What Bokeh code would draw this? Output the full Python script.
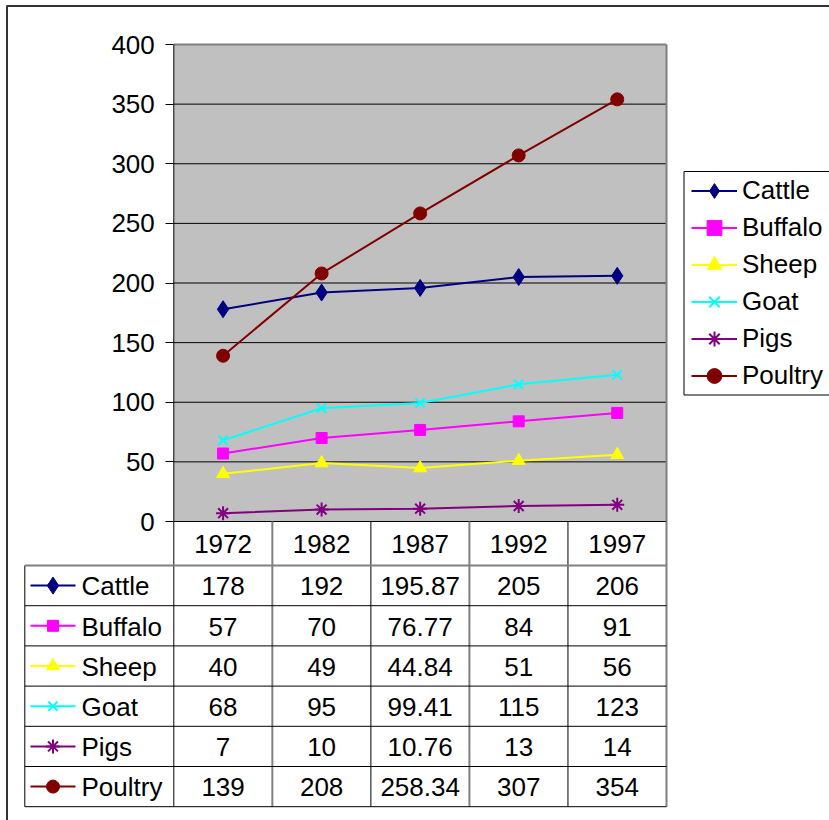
from bokeh.plotting import figure
from bokeh.models import Range1d, LinearAxis, FixedTicker, Legend, LegendItem, ColumnDataSource
from bokeh.core.properties import value
from bokeh.embed import file_html
from bokeh.resources import INLINE

# ---------------- data ----------------
years = ["1972", "1982", "1987", "1992", "1997"]
names = ["Cattle", "Buffalo", "Sheep", "Goat", "Pigs", "Poultry"]
cattle = [178, 192, 195.87, 205, 206]
buffalo = [57, 70, 76.77, 84, 91]
sheep = [40, 49, 44.84, 51, 56]
goat = [68, 95, 99.41, 115, 123]
pigs = [7, 10, 10.76, 13, 14]
poultry = [139, 208, 258.34, 307, 354]
y_ticks = [0, 50, 100, 150, 200, 250, 300, 350, 400]

series = [cattle, buffalo, sheep, goat, pigs, poultry]
colors = ["#000080", "#FF00FF", "#FFFF00", "#00FFFF", "#800080", "#800000"]
markers = ["diamond", "square", "triangle", "x", "asterisk", "circle"]
sizes = [17, 11, 13, 13, 14, 13]

# ---------------- layout constants (pixels) ----------------
W, H = 829, 820
PL, PR, PT, PB = 173.3, 666.0, 44.0, 521.0
ROW0, RH, TL, TB = 565.0, 40.2, 24.3, 806.0
FONT = "Liberation Sans"
FS = "26px"

n = len(years)
cw = (PR - PL) / n
upp = 400.0 / (PB - PT)

p = figure(width=W, height=H,
           x_range=Range1d(-PL / cw, (W - PL) / cw),
           y_range=Range1d(-(H - PB) * upp, PB * upp),
           min_border=0, toolbar_location=None, output_backend="svg",
           x_axis_location=None, y_axis_location=None,
           background_fill_color="white", border_fill_color="white")
p.outline_line_color = None
p.xgrid.visible = False
p.ygrid.visible = False
p.extra_x_ranges = {"px": Range1d(0, W)}
p.extra_y_ranges = {"px": Range1d(H, 0),
                    "row": Range1d((H - ROW0) / RH, -ROW0 / RH)}

# outer chart border
p.line(x=[6.5, 6.5, W + 5], y=[H + 5, 5.5, 5.5], x_range_name="px", y_range_name="px",
       line_color="#333333", line_width=2)

# plot area
p.quad(left=[0], right=[n], bottom=[0], top=[400], fill_color="#C0C0C0", line_color=None)
grid_vals = y_ticks[1:-1]
p.segment(x0=[0] * len(grid_vals), x1=[n] * len(grid_vals), y0=grid_vals, y1=grid_vals,
          line_color="black", line_width=1)

# y axis
yaxis = LinearAxis(fixed_location=0, ticker=FixedTicker(ticks=y_ticks))
yaxis.axis_line_color = None
yaxis.major_tick_out = 8
yaxis.major_tick_in = 0
yaxis.minor_tick_out = 0
yaxis.minor_tick_in = 0
yaxis.major_tick_line_color = "black"
yaxis.major_label_standoff = 11
yaxis.major_label_text_font = FONT
yaxis.major_label_text_font_size = FS
yaxis.major_label_text_color = "black"
p.add_layout(yaxis, "left")

# data series
xs = [i + 0.5 for i in range(n)]
items = []
for name, vals, c, m, s in zip(names, series, colors, markers, sizes):
    lr = p.line(x=xs, y=vals, line_color=c, line_width=2)
    sr = p.scatter(x=xs, y=vals, marker=m, size=s, fill_color=c, line_color=c,
                   line_width=2 if m in ("x", "asterisk") else 1)
    items.append(LegendItem(label=name, renderers=[lr, sr]))

# plot borders
p.line(x=[0, n], y=[400, 400], line_color="#808080", line_width=2)
p.line(x=[n, n], y=[0, 400], line_color="#808080", line_width=2)
p.line(x=[0, 0], y=[0, 400], line_color="black", line_width=1)
p.line(x=[0, n], y=[0, 0], line_color="black", line_width=1)

# ---------------- data table ----------------
hdr_top = (PB - ROW0) / RH
left_col = (TL - PL) / cw
nrows = len(names)
vcolors = ["black", "#808080", "black", "#808080", "black", "#808080"]
vwidths = [1, 2, 1, 2, 1, 2]
for k in range(n + 1):
    p.line(x=[k, k], y=[hdr_top, nrows], y_range_name="row",
           line_color=vcolors[k], line_width=vwidths[k])
p.line(x=[left_col, left_col], y=[0, nrows], y_range_name="row", line_color="black", line_width=1)
p.line(x=[left_col, n], y=[0, 0], y_range_name="row", line_color="#808080", line_width=2)
hy = list(range(1, nrows + 1))
p.segment(x0=[left_col] * nrows, x1=[n] * nrows, y0=hy, y1=hy, y_range_name="row",
          line_color="black", line_width=1)

# header years
hdr_src = ColumnDataSource(dict(x=xs, y=[hdr_top / 2] * n, t=years))
p.text(x="x", y="y", text="t", source=hdr_src, y_range_name="row",
       text_align="center", text_baseline="middle",
       text_font=value(FONT), text_font_size=FS, text_color="black")

# cell values
cx, cy, ct = [], [], []
for r, vals in enumerate(series):
    for i, v in enumerate(vals):
        cx.append(i + 0.5)
        cy.append(r + 0.52)
        ct.append(f"{v:g}")
p.text(x="x", y="y", text="t", source=ColumnDataSource(dict(x=cx, y=cy, t=ct)),
       y_range_name="row", text_align="center", text_baseline="middle",
       text_font=value(FONT), text_font_size=FS, text_color="black")

# row labels with keys
ry = [r + 0.52 for r in range(nrows)]
p.text(x=[81] * nrows, y=ry, text=names, x_range_name="px", y_range_name="row",
       text_align="left", text_baseline="middle",
       text_font=value(FONT), text_font_size=FS, text_color="black")
for r, (c, m, s) in enumerate(zip(colors, markers, sizes)):
    p.line(x=[30, 75], y=[r + 0.5, r + 0.5], x_range_name="px", y_range_name="row",
           line_color=c, line_width=2)
    p.scatter(x=[52.5], y=[r + 0.5], x_range_name="px", y_range_name="row",
              marker=m, size=s, fill_color=c, line_color=c,
              line_width=2 if m in ("x", "asterisk") else 1)

# ---------------- legend ----------------
p.quad(left=[683.5], right=[W + 5], top=[171], bottom=[394.5], x_range_name="px",
       y_range_name="px", fill_color=None, line_color="black", line_width=1)
legend = Legend(items=items, location=(691, H - 394), padding=0, spacing=0, margin=0,
                glyph_width=46, glyph_height=37, label_height=37, label_standoff=5,
                label_text_font=FONT, label_text_font_size=FS, label_text_color="black",
                border_line_color=None, background_fill_alpha=0)
p.add_layout(legend)

open("out.html", "w").write(file_html(p, INLINE))
